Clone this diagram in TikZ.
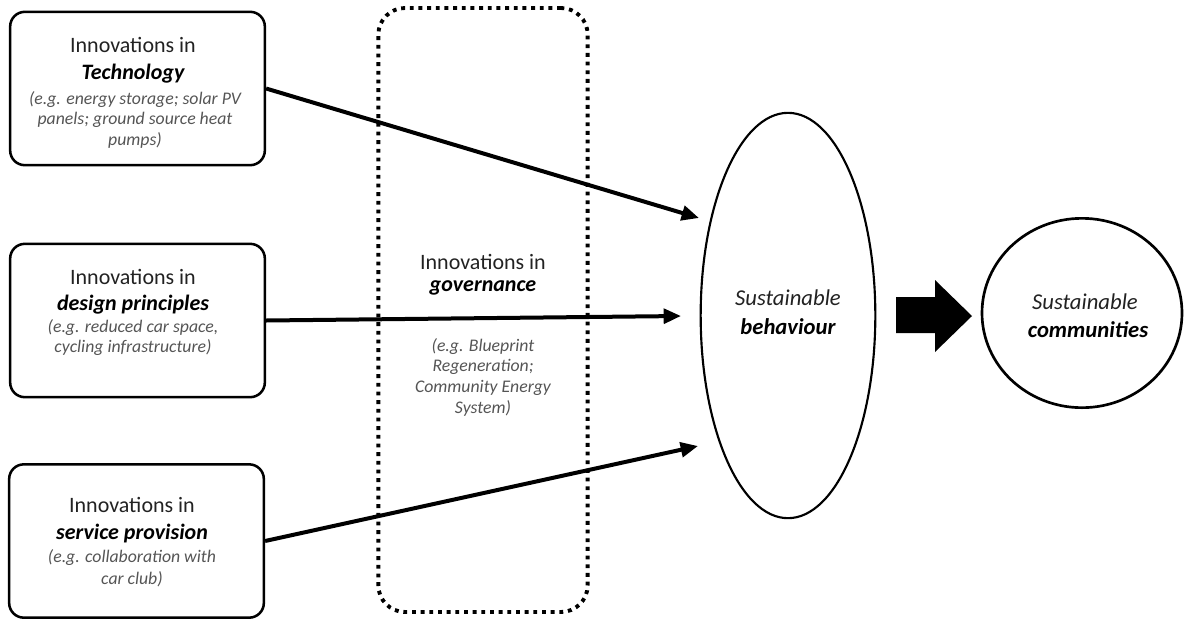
\documentclass[tikz,border=0pt]{standalone}
\usepackage{fontspec}
\setmainfont{Carlito}
\usetikzlibrary{arrows.meta,shapes.geometric}
\definecolor{maintext}{HTML}{222222}
\definecolor{egtext}{HTML}{555555}
\tikzset{
  box/.style={draw=black, line width=1.9pt, rounded corners=11pt, minimum width=191pt, minimum height=115pt, inner sep=0pt},
  govbox/.style={draw=black, line width=2.9pt, rounded corners=20pt, dash pattern=on 2.9pt off 3.6pt, minimum width=157pt, minimum height=453pt, inner sep=0pt},
  head/.style={font=\fontsize{16.5}{19}\selectfont, text=maintext, inner sep=0pt},
  key/.style={font=\fontsize{16.5}{19}\selectfont\bfseries\itshape, text=black, inner sep=0pt},
  eg/.style={font=\fontsize{13.3}{15}\selectfont\itshape, text=egtext, inner sep=0pt},
  sus/.style={font=\fontsize{17}{19}\selectfont\itshape, text=maintext, inner sep=0pt},
  susb/.style={font=\fontsize{17}{19}\selectfont\bfseries\itshape, text=black, inner sep=0pt},
  conn/.style={line width=3pt, -{Triangle[length=13pt,width=11pt]}},
}
\begin{document}
\begin{tikzpicture}[x=0.75pt,y=-0.75pt]
\path[use as bounding box] (0,0) rectangle (1189,618);
% boxes
\node[box] (b1) at (137.5,88.5) {};
\node[box] (b2) at (137.5,320.5) {};
\node[box] (b3) at (136.5,541) {};
\node[govbox] (gov) at (483,310) {};
% box 1 texts
\node[head] (t1a) at (133,45) {Innovations in};
\node[key] (t1b) at (133,74) {Technology};
\node[eg] (t1c) at (135,100) {(e.g. energy storage; solar PV};
\node[eg] (t1d) at (135,120) {panels; ground source heat};
\node[eg] (t1e) at (135,140) {pumps)};
% box 2 texts
\node[head] (t2a) at (133,277) {Innovations in};
\node[key] (t2b) at (133,305) {design principles};
\node[eg] (t2c) at (133,328) {(e.g. reduced car space,};
\node[eg] (t2d) at (133,348) {cycling infrastructure)};
% box 3 texts
\node[head] (t3a) at (132,505) {Innovations in};
\node[key] (t3b) at (132,534) {service provision};
\node[eg] (t3c) at (132,558) {(e.g. collaboration with};
\node[eg] (t3d) at (132,579) {car club)};
% governance texts
\node[head] (tga) at (483,262) {Innovations in};
\node[key] (tgb) at (483,288) {governance};
\node[eg] (tgc) at (483,347) {(e.g. Blueprint};
\node[eg] (tgd) at (483,367) {Regeneration;};
\node[eg] (tge) at (483,388) {Community Energy};
\node[eg] (tgf) at (483,408) {System)};
% ellipse and circle
\node[draw=black, line width=1.6pt, ellipse, minimum width=131pt, minimum height=304pt, inner sep=0pt] (beh) at (788,315.5) {};
\node[sus] (tea) at (788,298) {Sustainable};
\node[susb] (teb) at (788,327) {behaviour};
\node[draw=black, line width=2pt, ellipse, minimum width=150pt, minimum height=142pt, inner sep=0pt] (com) at (1082,313) {};
\node[sus] (tca) at (1085,302) {Sustainable};
\node[susb] (tcb) at (1088,330) {communities};
% connectors
\coordinate (e1) at (699,218);
\coordinate (e2) at (681,316);
\coordinate (e3) at (698,446);
\draw[conn] (b1.east) -- (e1);
\draw[conn] (b2.east) -- (e2);
\draw[conn] (b3.east) -- (e3);
% block arrow
\fill[black] (896,297) -- (935,297) -- (935,280) -- (972,316) -- (935,352) -- (935,333) -- (896,333) -- cycle;
\end{tikzpicture}
\end{document}
